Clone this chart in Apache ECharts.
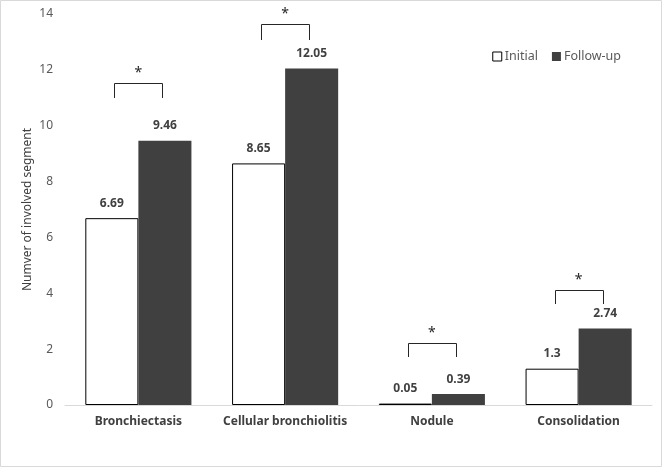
<!DOCTYPE html>
<html>
<head>
<meta charset="utf-8">
<script src="https://cdn.jsdelivr.net/npm/echarts@6/dist/echarts.min.js"></script>
<style>
html,body{margin:0;padding:0;background:#fff;}
#c{width:663px;height:468px;}
</style>
</head>
<body>
<div id="c"></div>
<script>
const categories = ['Bronchiectasis', 'Cellular bronchiolitis', 'Nodule', 'Consolidation'];
const initialValues = [6.69, 8.65, 0.05, 1.3];
const followUpValues = [9.46, 12.05, 0.39, 2.74];
const initialLabels = ['6.69', '8.65', '0.05', '1.3'];
const followUpLabels = ['9.46', '12.05', '0.39', '2.74'];
// significance brackets: [category index, top value, leg bottom value]
const brackets = [[0, 11.53, 11.0], [1, 13.64, 13.07], [2, 2.21, 1.71], [3, 4.12, 3.62]];

const chart = echarts.init(document.getElementById('c'));
const font = '"Noto Sans", "Open Sans", sans-serif';
chart.setOption({
  animation: false,
  textStyle: { fontFamily: font },
  grid: { left: 65, right: 11, top: 14, bottom: 63, containLabel: false },
  graphic: [{
    type: 'rect', shape: { x: 0.5, y: 0.5, width: 661, height: 466 },
    style: { fill: 'none', stroke: '#d9d9d9', lineWidth: 1 }, silent: true
  }],
  legend: {
    right: 37, top: 45, itemWidth: 9, itemHeight: 9, itemGap: 14,
    textStyle: { color: '#595959', fontSize: 12.5, fontFamily: font, padding: [0, 0, 0, -2] },
    data: [
      { name: 'Initial', icon: 'rect', itemStyle: { color: '#fff', borderColor: '#000', borderWidth: 1 } },
      { name: 'Follow-up', icon: 'rect', itemStyle: { color: '#404040' } }
    ]
  },
  xAxis: {
    type: 'category', data: categories,
    axisLine: { lineStyle: { color: '#d9d9d9' } },
    axisTick: { show: false },
    axisLabel: { interval: 0, color: '#404040', fontWeight: 'bold', fontSize: 12, margin: 11, fontFamily: font }
  },
  yAxis: {
    type: 'value', min: 0, max: 14, interval: 2,
    name: 'Numver of involved segment', nameLocation: 'middle', nameGap: 31, nameMoveOverlap: false,
    nameTextStyle: { color: '#404040', fontSize: 12, fontFamily: font },
    axisLine: { show: false }, axisTick: { show: false }, splitLine: { show: false },
    axisLabel: { color: '#595959', fontSize: 12, margin: 12, fontFamily: font }
  },
  series: [
    {
      name: 'Initial', type: 'bar', data: initialValues, barGap: '0%', barCategoryGap: '27.7%',
      itemStyle: { color: '#fff', borderColor: '#000', borderWidth: 1 },
      label: { show: true, position: 'top', distance: 9, color: '#404040', fontWeight: 'bold', fontSize: 12,
        fontFamily: font, formatter: p => initialLabels[p.dataIndex] }
    },
    {
      name: 'Follow-up', type: 'bar', data: followUpValues,
      itemStyle: { color: '#404040' },
      label: { show: true, position: 'top', distance: 9, color: '#404040', fontWeight: 'bold', fontSize: 12,
        fontFamily: font, formatter: p => followUpLabels[p.dataIndex] }
    },
    {
      type: 'custom', silent: true, z: 5,
      data: brackets,
      renderItem: function (params, api) {
        const idx = api.value(0);
        const top = api.coord([idx, api.value(1)]);
        const bot = api.coord([idx, api.value(2)]);
        const bw = api.size([1, 0])[0];
        const half = bw * 0.164;
        const x1 = Math.round(top[0] - half) + 0.5, x2 = Math.round(top[0] + half) + 0.5;
        const yt = Math.round(top[1]) + 0.5, yb = Math.round(bot[1]);
        return {
          type: 'group',
          children: [
            { type: 'polyline', shape: { points: [[x1, yb], [x1, yt], [x2, yt], [x2, yb]] },
              style: { fill: null, stroke: '#262626', lineWidth: 1 } },
            { type: 'text', x: top[0], y: yt - 3,
              style: { text: '*', fill: '#262626', fontSize: 14, fontFamily: font, align: 'center', verticalAlign: 'bottom' } }
          ]
        };
      }
    }
  ]
});
</script>
</body>
</html>
